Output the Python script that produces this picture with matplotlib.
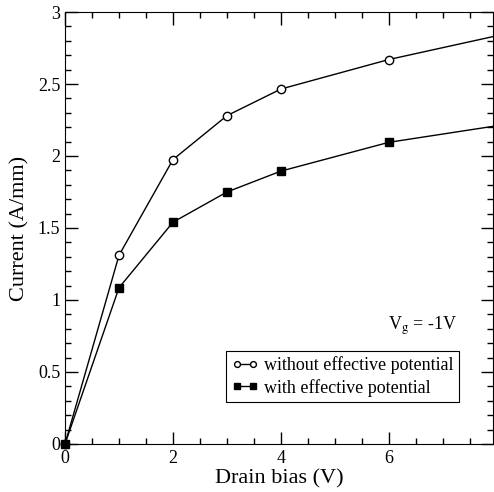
import matplotlib
matplotlib.use('Agg')
import matplotlib.pyplot as plt
from matplotlib.ticker import MultipleLocator

plt.rcParams['font.family'] = ['Liberation Serif', 'DejaVu Serif']
plt.rcParams['mathtext.fontset'] = 'stix'

# 数据
drain_bias = [0, 1, 2, 3, 4, 6, 8]
without_eff = [0.0, 1.31, 1.975, 2.28, 2.465, 2.67, 2.835]
with_eff = [0.0, 1.085, 1.54, 1.75, 1.895, 2.095, 2.21]

fig = plt.figure(figsize=(4.94, 4.92), dpi=100)
ax = fig.add_axes([0.1316, 0.0976, 0.8664, 0.878])

ax.plot(drain_bias, without_eff, color='black', lw=1.0, marker='o', ms=6,
        mfc='white', mec='black', mew=1.0, markevery=slice(0, 6),
        clip_on=False, zorder=3, label='without effective potential')
ax.plot(drain_bias, with_eff, color='black', lw=1.0, marker='s', ms=6,
        mfc='black', mec='black', markevery=slice(0, 6),
        clip_on=False, zorder=4, label='with effective potential')

ax.set_xlim(0, 7.93)
ax.set_ylim(0, 3)
ax.xaxis.set_major_locator(MultipleLocator(2))
ax.xaxis.set_minor_locator(MultipleLocator(0.5))
ax.yaxis.set_minor_locator(MultipleLocator(0.1))
ax.set_yticks([0, 0.5, 1, 1.5, 2, 2.5, 3])
ax.set_yticklabels(['0', '0.5', '1', '1.5', '2', '2.5', '3'])
ax.tick_params(which='both', direction='in', top=True, right=True, labelsize=13)
ax.tick_params(which='major', length=9, width=1.0)
ax.tick_params(which='minor', length=4.5, width=1.0)
ax.tick_params(axis='x', pad=4)

ax.set_xlabel('Drain bias (V)', fontsize=16, labelpad=2)
ax.set_ylabel('Current (A/mm)', fontsize=16, labelpad=6)

ax.text(0.916, 0.265, r'V$_{\rm g}$ = -1V', transform=ax.transAxes,
        fontsize=13, ha='right', va='baseline')

leg = ax.legend(loc='lower right', bbox_to_anchor=(0.921, 0.097), fontsize=13,
                numpoints=2, handlelength=1.5, handletextpad=0.3, markerscale=0.7,
                borderpad=0.3, labelspacing=0.25, fancybox=False, framealpha=1,
                edgecolor='black', borderaxespad=0)
leg.get_frame().set_linewidth(0.8)

plt.savefig('out.png', dpi=100)
